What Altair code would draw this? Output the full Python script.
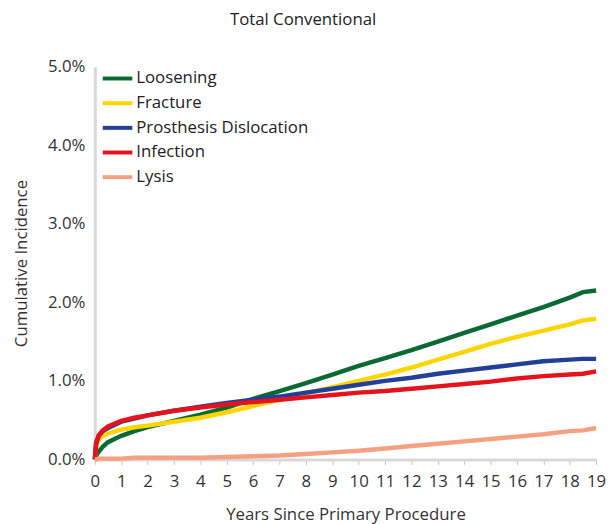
import altair as alt
import pandas as pd

years = [0, 0.05, 0.15, 0.3, 0.5, 1, 1.5, 2, 3, 4, 5, 6, 7, 8, 9, 10, 11, 12, 13, 14, 15, 16, 17, 18, 18.5, 19]

loosening = [0.0, 0.05, 0.10, 0.16, 0.22, 0.30, 0.36, 0.41, 0.49, 0.57, 0.66, 0.77, 0.87, 0.97, 1.08, 1.19, 1.29, 1.39, 1.50, 1.61, 1.72, 1.83, 1.94, 2.06, 2.13, 2.15]
fracture = [0.0, 0.16, 0.25, 0.30, 0.33, 0.38, 0.41, 0.43, 0.48, 0.53, 0.60, 0.68, 0.76, 0.84, 0.92, 1.00, 1.08, 1.17, 1.27, 1.37, 1.47, 1.56, 1.64, 1.72, 1.77, 1.79]
dislocation = [0.0, 0.20, 0.30, 0.36, 0.40, 0.48, 0.52, 0.56, 0.62, 0.67, 0.72, 0.76, 0.80, 0.85, 0.90, 0.95, 1.00, 1.04, 1.09, 1.13, 1.17, 1.21, 1.25, 1.27, 1.28, 1.28]
infection = [0.0, 0.22, 0.31, 0.37, 0.42, 0.49, 0.53, 0.56, 0.62, 0.66, 0.70, 0.73, 0.76, 0.79, 0.82, 0.85, 0.87, 0.90, 0.93, 0.96, 0.99, 1.03, 1.06, 1.08, 1.09, 1.12]
lysis = [0.0, 0.0, 0.01, 0.01, 0.01, 0.01, 0.02, 0.02, 0.02, 0.02, 0.03, 0.04, 0.05, 0.07, 0.09, 0.11, 0.14, 0.17, 0.20, 0.23, 0.26, 0.29, 0.32, 0.36, 0.37, 0.40]

series = ["Loosening", "Fracture", "Prosthesis Dislocation", "Infection", "Lysis"]
colors = ["#0b6a34", "#ffd500", "#233f98", "#e5131b", "#f4a083"]
values = [loosening, fracture, dislocation, infection, lysis]

rows = []
for i, (name, vals) in enumerate(zip(series, values)):
    for x, v in zip(years, vals):
        rows.append({"Year": x, "Value": v / 100.0, "Series": name, "order": i})
df = pd.DataFrame(rows)

FONT = "Open Sans"

chart = alt.Chart(df).mark_line(strokeWidth=4.5, strokeCap="butt").encode(
    x=alt.X("Year:Q", scale=alt.Scale(domain=[0, 19], nice=False),
            axis=alt.Axis(title="Years Since Primary Procedure", values=list(range(20)),
                          format="d", grid=False, tickSize=5, tickColor="#bfbfbf",
                          domainColor="#d9d9d9", domainWidth=3, labelPadding=9,
                          labelFlush=False, titlePadding=18)),
    y=alt.Y("Value:Q", scale=alt.Scale(domain=[0, 0.05], nice=False),
            axis=alt.Axis(title="Cumulative Incidence", format=".1%", values=[0, 0.01, 0.02, 0.03, 0.04, 0.05],
                          grid=False, ticks=False, domainColor="#d9d9d9", domainWidth=3,
                          labelPadding=10, titlePadding=17, labelFlush=False)),
    color=alt.Color("Series:N", scale=alt.Scale(domain=series, range=colors),
                    legend=alt.Legend(title=None, orient="none", legendX=6, legendY=-5,
                                      symbolType="stroke", symbolStrokeWidth=4, symbolSize=900,
                                      labelFontSize=17, labelFont=FONT, labelColor="#222222",
                                      labelLimit=300, rowPadding=-2, labelOffset=2)),
    detail="order:O",
    order="Year:Q",
).properties(
    width=508, height=398,
    autosize=alt.AutoSizeParams(type="none"),
    padding={"left": 88, "top": 56, "right": 10, "bottom": 62},
    title=alt.TitleParams("Total Conventional", fontSize=17, font=FONT, fontWeight="normal",
                          color="#222222", dx=-43, offset=29, anchor="middle"),
).configure_view(stroke=None).configure_axis(
    labelFont=FONT, titleFont=FONT, labelFontSize=17, titleFontSize=17,
    labelColor="#333333", titleColor="#333333", titleFontWeight="normal",
)

chart.save("out.html", embed_options={"renderer": "svg", "actions": False})
